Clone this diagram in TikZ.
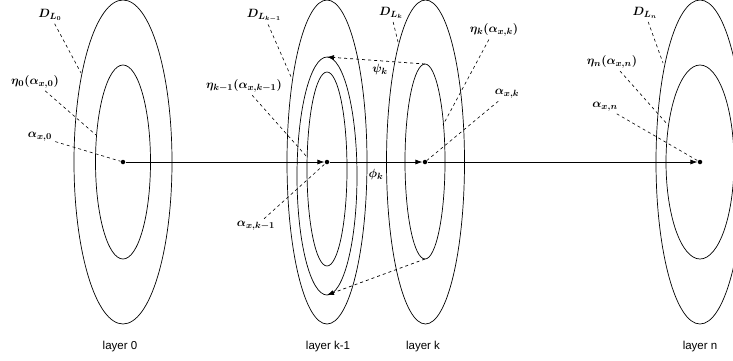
\documentclass[tikz,border=0pt]{standalone}
\usepackage{amsmath,amssymb,bm}
\usepackage{fontspec}
\usepackage{tikz}
\usetikzlibrary{arrows.meta,calc,positioning}
\newfontfamily\layerfont{Liberation Sans}

\begin{document}
\begin{tikzpicture}[x=1pt,y=-1pt,line width=0.7pt,>={Latex[length=7pt,width=5pt]},
    lead/.style={dashed,line width=0.6pt,shorten <=2pt},
    dot/.style={circle,fill,inner sep=0pt,minimum size=4.5pt},
    lbl/.style={font=\fontsize{13}{15}\selectfont,inner sep=1pt},
    layer/.style={font=\layerfont\fontsize{11.5}{13}\selectfont}]
  \clip (0,0) rectangle (733,360);
  % layer 0
  \draw (123,162) ellipse [x radius=49,y radius=162];
  \draw (123,162) ellipse [x radius=27.5,y radius=97];
  % layer k-1
  \draw (327,162) ellipse [x radius=40,y radius=162];
  \draw (327,176) ellipse [x radius=30,y radius=119];
  \draw (327,169) ellipse [x radius=20,y radius=97];
  % layer k
  \draw (425.5,162) ellipse [x radius=39,y radius=162];
  \draw (425,161.5) ellipse [x radius=20,y radius=97.5];
  % layer n
  \draw (700,162) ellipse [x radius=44,y radius=162];
  \draw (700,162) ellipse [x radius=34,y radius=97];

  % points on the chain
  \node[dot] (d0) at (123,162) {};
  \node[dot] (d1) at (327,162) {};
  \node[dot] (d2) at (425,162) {};
  \node[dot] (d3) at (700,162) {};
  \draw[->] (d0) -- (d1);
  \draw[->] (d1) -- (d2);
  \draw[->] (d2) -- (d3);
  \node[lbl] (phi) at (376,174) {$\bm{\phi_k}$};

  % psi between layer k and layer k-1
  \coordinate (ktop) at (425,64);
  \coordinate (kbot) at (425,259);
  \coordinate (mtop) at (327,57);
  \coordinate (mbot) at (327,295);
  \draw[dashed,->] (ktop) -- (mtop);
  \draw[dashed,->] (kbot) -- (mbot);
  \node[lbl] (psi) at (380,69) {$\bm{\psi_k}$};

  % labels
  \node[lbl] (dl0) at (50,15) {$\bm{D_{L_0}}$};
  \node[lbl] (eta0) at (35,82) {$\bm{\eta_0(\alpha_{x,0})}$};
  \node[lbl] (a0) at (40,137) {$\bm{\alpha_{x,0}}$};
  \node[lbl] (dlk1) at (264,15) {$\bm{D_{L_{k-1}}}$};
  \node[lbl] (etak1) at (244,86) {$\bm{\eta_{k-1}(\alpha_{x,k-1})}$};
  \node[lbl] (ak1) at (256,226) {$\bm{\alpha_{x,k-1}}$};
  \node[lbl] (dlk) at (391,13) {$\bm{D_{L_k}}$};
  \node[lbl] (etak) at (494,30) {$\bm{\eta_k(\alpha_{x,k})}$};
  \node[lbl] (ak) at (507,94) {$\bm{\alpha_{x,k}}$};
  \node[lbl] (dln) at (645,13) {$\bm{D_{L_n}}$};
  \node[lbl] (etan) at (612,62) {$\bm{\eta_n(\alpha_{x,n})}$};
  \node[lbl] (an) at (605,107) {$\bm{\alpha_{x,n}}$};

  \coordinate (p0) at (81,73);
  \coordinate (q0) at (96,135);
  \coordinate (p1) at (292,79);
  \coordinate (q1) at (307,157);
  \coordinate (p2) at (398,42);
  \coordinate (q2) at (443,125);
  \coordinate (p3) at (663,63);
  \coordinate (q3) at (668,125);
  \draw[lead] (dl0) -- (p0);
  \draw[lead] (eta0) -- (q0);
  \draw[lead] (a0) -- (d0);
  \draw[lead] (dlk1) -- (p1);
  \draw[lead] (etak1) -- (q1);
  \draw[lead] (ak1) -- (d1);
  \draw[lead] (dlk) -- (p2);
  \draw[lead] (etak) -- (q2);
  \draw[lead] (ak) -- (d2);
  \draw[lead] (dln) -- (p3);
  \draw[lead] (etan) -- (q3);
  \draw[lead] (an) -- (d3);

  % layer names
  \node[layer] (l0) at (120,347) {layer 0};
  \node[layer] (lk1) at (328,347) {layer k-1};
  \node[layer] (lk) at (423,347) {layer k};
  \node[layer] (ln) at (700,347) {layer n};
\end{tikzpicture}
\end{document}
